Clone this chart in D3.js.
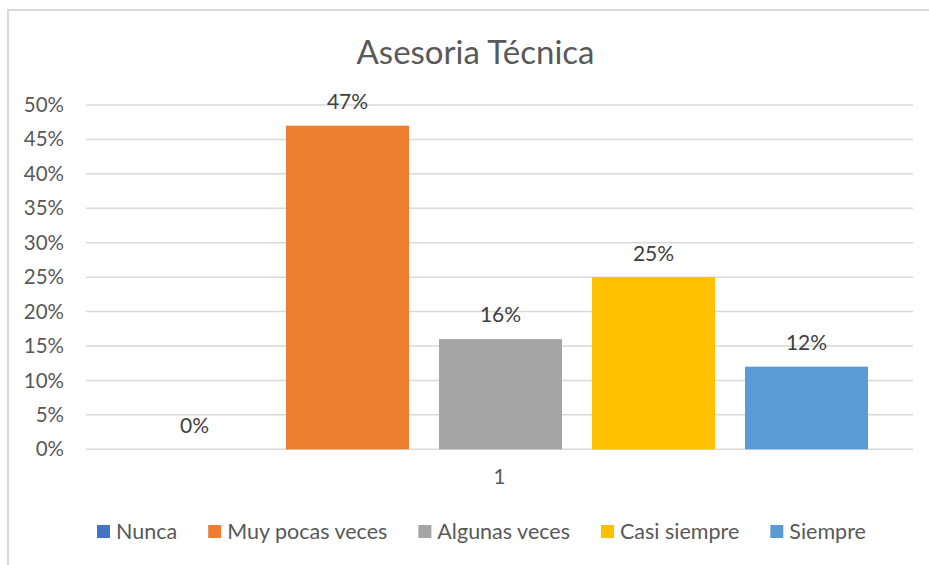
<!DOCTYPE html>
<html>
<head>
<meta charset="utf-8">
<script src="https://cdn.jsdelivr.net/npm/d3@7"></script>
<style>
  html, body { margin: 0; padding: 0; background: #fff; }
  svg { display: block; }
  text { font-family: Lato, "Open Sans", sans-serif; }
</style>
</head>
<body>
<svg id="chart" width="929" height="565"></svg>
<script>
const title = "Asesoria Técnica";
const categories = ["1"];
const series = ["Nunca", "Muy pocas veces", "Algunas veces", "Casi siempre", "Siempre"];
const values = [0, 0.47, 0.16, 0.25, 0.12];
const colors = ["#4472C4", "#ED7D31", "#A5A5A5", "#FFC000", "#5B9BD5"];
const yTicks = [0, 0.05, 0.10, 0.15, 0.20, 0.25, 0.30, 0.35, 0.40, 0.45, 0.50];

const svg = d3.select("#chart");
const W = 929, H = 565;
const plot = { left: 86, right: 913, top: 105, bottom: 449.3 };

// chart border (top + left visible)
svg.append("rect").attr("x", 8).attr("y", 10).attr("width", W + 10).attr("height", H + 10)
  .attr("fill", "#fff").attr("stroke", "#D9D9D9").attr("stroke-width", 2);

svg.append("text").attr("x", 475.5).attr("y", 52).attr("dy", "0.35em").attr("text-anchor", "middle")
  .attr("font-size", 33).attr("fill", "#595959").text(title);

const y = d3.scaleLinear().domain([0, 0.5]).range([plot.bottom, plot.top]);
const x0 = d3.scaleBand().domain(categories).range([plot.left, plot.right]);
const x1 = d3.scaleBand().domain(series).range([118, 883]).paddingInner(0.196).paddingOuter(0.098);

// gridlines
svg.append("g").selectAll("line").data(yTicks).join("line")
  .attr("x1", plot.left).attr("x2", plot.right)
  .attr("y1", d => y(d)).attr("y2", d => y(d))
  .attr("stroke", "#D9D9D9").attr("stroke-width", 1.5);

// y axis labels
const yAxis = d3.axisLeft(y).tickValues(yTicks).tickFormat(d3.format(".0%")).tickSize(0).tickPadding(0);
const gy = svg.append("g").attr("transform", "translate(64,0)").call(yAxis);
gy.select(".domain").remove();
gy.selectAll("text").attr("font-size", 20.5).attr("fill", "#595959").attr("font-family", "Lato, sans-serif");

// x axis label
const xAxis = d3.axisBottom(x0).tickSize(0).tickPadding(0);
const gx = svg.append("g").attr("transform", `translate(0,${plot.bottom + 20})`).call(xAxis);
gx.select(".domain").remove();
gx.selectAll("text").attr("font-size", 20.5).attr("fill", "#595959").attr("font-family", "Lato, sans-serif");

// bars
const data = series.map((s, i) => ({ s, v: values[i], c: colors[i] }));
svg.append("g").selectAll("rect").data(data).join("rect")
  .attr("x", d => x1(d.s)).attr("width", x1.bandwidth())
  .attr("y", d => y(d.v)).attr("height", d => y(0) - y(d.v))
  .attr("fill", d => d.c);

// data labels
svg.append("g").selectAll("text").data(data).join("text")
  .attr("x", d => x1(d.s) + x1.bandwidth() / 2)
  .attr("y", d => y(d.v) - 24)
  .attr("dy", "0.35em")
  .attr("text-anchor", "middle").attr("font-size", 21).attr("fill", "#404040")
  .text(d => d3.format(".0%")(d.v));

// legend
const lg = svg.append("g");
let lx = 97;
const ly = 531;
data.forEach(d => {
  lg.append("rect").attr("x", lx).attr("y", ly - 6).attr("width", 13).attr("height", 13).attr("fill", d.c);
  const t = lg.append("text").attr("x", lx + 19).attr("y", ly).attr("dy", "0.35em")
    .attr("font-size", 21.5).attr("fill", "#595959").text(d.s);
  lx += 19 + t.node().getComputedTextLength() + 31;
});
</script>
</body>
</html>
